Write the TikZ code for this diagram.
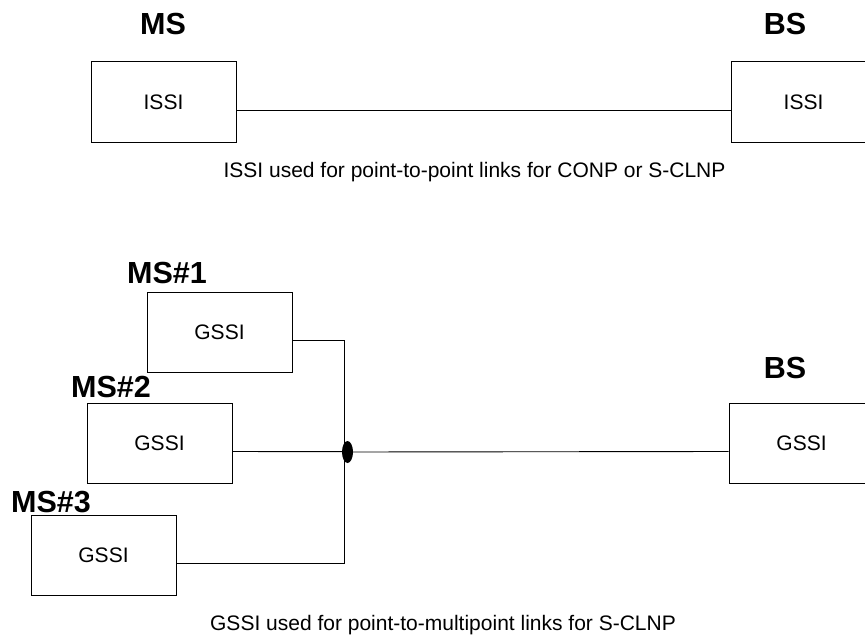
\documentclass[tikz,border=0pt]{standalone}
\usepackage{fontspec}
\setmainfont{Liberation Sans}
\usetikzlibrary{shapes.geometric}

\tikzset{
  sbox/.style={draw=black, line width=1pt, minimum width=145pt, minimum height=80pt,
               inner sep=0pt, font=\fontsize{21}{25}\selectfont},
  stitle/.style={anchor=base, inner sep=0pt, font=\fontsize{30.5}{36}\selectfont\bfseries},
  caption/.style={anchor=base, inner sep=0pt, font=\fontsize{21}{25}\selectfont},
  link/.style={line width=0.9pt},
  junc/.style={ellipse, fill=black, minimum width=11pt, minimum height=22pt, inner sep=0pt}
}

\begin{document}
\begin{tikzpicture}[x=1pt, y=-1pt]

% Page
\fill[white] (0,0) rectangle (865,642);
\useasboundingbox (0,0) rectangle (865,642);

% ── Point-to-point ──
\node[stitle] (mslab) at (163,35) {MS};
\node[stitle] (bslab) at (785,35) {BS};

\node[sbox] (ms) at (163.5,102) {ISSI};
\node[sbox] (bs) at (803.5,102) {ISSI};

\draw[link] ([yshift=-8pt]ms.east) -- ([yshift=-8pt]bs.west);

\node[caption] (capa) at (474.5,177.5)
  {ISSI used for point-to-point links for CONP or S-CLNP};

% ── Point-to-multipoint ──
\node[stitle] (ms1lab) at (167,283) {MS\#1};
\node[stitle] (ms2lab) at (111,397) {MS\#2};
\node[stitle] (ms3lab) at (51,512) {MS\#3};
\node[stitle] (bsblab) at (785,378) {BS};

\node[sbox] (ms1) at (219.5,332) {GSSI};
\node[sbox] (ms2) at (159.5,443.5) {GSSI};
\node[sbox] (ms3) at (103.5,555) {GSSI};
\node[sbox] (bsb) at (801.5,443.5) {GSSI};

% bus and junction
\coordinate (bus) at (344.3,451.7);
\node[junc] (jn) at (347.5,452) {};

\draw[link] ([yshift=-8pt]ms1.east) -| (bus) |- ([yshift=-8pt]ms3.east);
\draw[link] ([yshift=-8pt]ms2.east) -- (bus);
\draw[link] (jn) -- ([yshift=-8pt]bsb.west);

\node[caption] (capb) at (443,630.5)
  {GSSI used for point-to-multipoint links for S-CLNP};

\end{tikzpicture}
\end{document}
